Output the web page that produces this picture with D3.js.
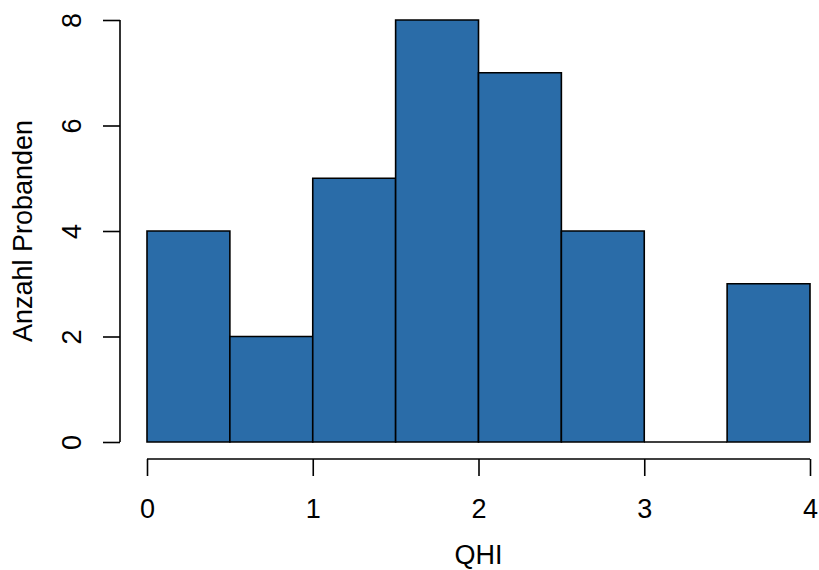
<!DOCTYPE html>
<html>
<head>
<meta charset="utf-8">
<script src="https://cdn.jsdelivr.net/npm/d3@7"></script>
<style>
  html, body { margin: 0; padding: 0; background: #fff; }
  svg text { font-family: "Liberation Sans", Arial, sans-serif; fill: #000; }
</style>
</head>
<body>
<svg id="chart" width="819" height="570"></svg>
<script>
// Histogram bins of QHI (width 0.5) and their counts
const binStarts = [0, 0.5, 1, 1.5, 2, 2.5, 3, 3.5];
const binWidth = 0.5;
const counts = [4, 2, 5, 8, 7, 4, 0, 3];
const xTicks = [0, 1, 2, 3, 4];
const yTicks = [0, 2, 4, 6, 8];
const xTitle = "QHI";
const yTitle = "Anzahl Probanden";

const svg = d3.select("#chart");
const fontSize = 27;

const x = d3.scaleLinear().domain([0, 4]).range([147, 810]);
const y = d3.scaleLinear().domain([0, 8]).range([442, 20]);

// bars as closed paths so an empty bin still shows its outline on the baseline
svg.append("g")
  .selectAll("path")
  .data(binStarts.map((s, i) => ({ s, c: counts[i] })))
  .join("path")
  .attr("d", d => {
    const x0 = x(d.s), x1 = x(d.s + binWidth), y0 = y(0), y1 = y(d.c);
    return `M${x0},${y0}L${x0},${y1}L${x1},${y1}L${x1},${y0}Z`;
  })
  .attr("fill", "#2a6ca8")
  .attr("stroke", "#000")
  .attr("stroke-width", 1.6);

// x axis
const xAxis = svg.append("g")
  .attr("transform", "translate(0,459)")
  .call(d3.axisBottom(x).tickValues(xTicks).tickFormat(d3.format("d")).tickSize(17).tickSizeOuter(0));
xAxis.select(".domain").attr("stroke", "#000").attr("stroke-width", 1.6)
  .attr("d", `M${x(0)},0H${x(4)}`);
xAxis.selectAll(".tick line").attr("stroke", "#000").attr("stroke-width", 1.6);
xAxis.selectAll(".tick text")
  .attr("y", 50)
  .attr("dy", "0.35em")
  .style("font-size", fontSize + "px")
  .style("font-family", "Liberation Sans, Arial, sans-serif")
  .attr("fill", "#000");

// y axis
const yAxis = svg.append("g")
  .attr("transform", "translate(120,0)")
  .call(d3.axisLeft(y).tickValues(yTicks).tickFormat(d3.format("d")).tickSize(17).tickSizeOuter(0));
yAxis.select(".domain").attr("stroke", "#000").attr("stroke-width", 1.6)
  .attr("d", `M0,${y(0)}V${y(8)}`);
yAxis.selectAll(".tick line").attr("stroke", "#000").attr("stroke-width", 1.6);
yAxis.selectAll(".tick text")
  .attr("x", 0).attr("y", 0).attr("dy", 0)
  .attr("text-anchor", "middle")
  .attr("dominant-baseline", "central")
  .attr("transform", "translate(-48,0) rotate(-90)")
  .style("font-size", fontSize + "px")
  .style("font-family", "Liberation Sans, Arial, sans-serif")
  .attr("fill", "#000");

// axis titles
svg.append("text")
  .attr("x", (x(0) + x(4)) / 2)
  .attr("y", 564)
  .attr("text-anchor", "middle")
  .style("font-size", fontSize + "px")
  .text(xTitle);

svg.append("text")
  .attr("transform", `translate(23,${(y(0) + y(8)) / 2}) rotate(-90)`)
  .attr("text-anchor", "middle")
  .attr("dominant-baseline", "central")
  .style("font-size", fontSize + "px")
  .text(yTitle);
</script>
</body>
</html>
